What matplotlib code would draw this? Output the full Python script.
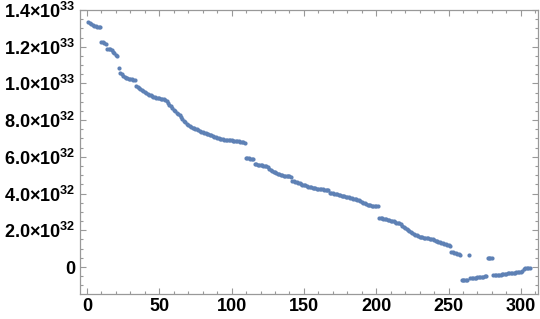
import numpy as np
import matplotlib
matplotlib.use("Agg")
import matplotlib.pyplot as plt
from matplotlib.ticker import FixedLocator, MultipleLocator

plt.rcParams['font.family'] = ['Liberation Sans', 'DejaVu Sans']
plt.rcParams['mathtext.fontset'] = 'custom'
plt.rcParams['mathtext.rm'] = 'Liberation Sans:bold'
plt.rcParams['mathtext.bf'] = 'Liberation Sans:bold'
plt.rcParams['mathtext.it'] = 'Liberation Sans:bold'

# values in units of 1e31, one per index 1..306
y_e31 = [
    133.4, 133.0, 132.4, 131.8, 131.5, 131.2, 131.0, 130.9, 130.8,          # 1-9
    122.6, 122.3, 122.0, 121.6,                                              # 10-13
    119.0, 118.8, 118.5, 118.3, 116.9, 116.3, 115.6, 114.8,                  # 14-21
    108.6,                                                                   # 22
    105.7, 105.0, 104.3, 103.7, 103.2, 102.8, 102.6, 102.4, 102.2, 102.0, 101.9,  # 23-33
    98.6, 98.0, 97.4, 96.8, 96.2, 95.7, 95.2, 94.7, 94.3, 93.9,              # 34-43
    93.6, 93.2, 92.8, 92.5, 92.3, 92.1, 91.9, 91.7, 91.5, 91.3, 91.0, 90.6,  # 44-55
    89.2, 88.2, 87.5, 86.5, 85.6, 84.8, 84.0, 83.3, 82.6, 81.5,              # 56-65
    80.6, 79.8, 78.9, 78.0, 77.2, 76.6, 76.2, 75.9, 75.6, 75.3,              # 66-75
    75.0, 74.6, 74.2, 73.8, 73.5, 73.2, 73.0, 72.7, 72.4, 72.1,              # 76-85
    71.7, 71.3, 71.0, 70.6, 70.3, 70.1, 69.9, 69.7, 69.6, 69.4,              # 86-95
    69.3, 69.2, 69.2, 69.1, 69.0, 68.9, 68.8, 68.6, 68.5, 68.4,              # 96-105
    68.3, 68.1, 67.9, 67.6,                                                  # 106-109
    59.4, 59.3, 59.2, 59.1, 59.0, 58.8,                                      # 110-115
    56.1, 55.9, 55.8, 55.6, 55.5, 55.4, 55.2, 55.0, 54.8, 54.6, 53.6,        # 116-126
    52.8, 52.4, 52.0, 51.6, 51.2, 50.8, 50.4, 50.1,                          # 127-134
    49.9, 49.8, 49.6, 49.5, 49.4, 49.3, 49.2,                                # 135-141
    47.0, 46.7, 46.4, 46.1, 45.8, 45.5, 45.2, 44.9, 44.7,                    # 142-150
    44.4, 44.1, 43.8, 43.6, 43.4, 43.2, 43.0,                                # 151-157
    42.8, 42.7, 42.6, 42.5, 42.4, 42.3, 42.2, 42.1, 42.0, 41.9,              # 158-167
    40.5, 40.3, 40.1, 39.9, 39.7, 39.5, 39.3, 39.1, 38.9, 38.7,
    38.5, 38.3, 38.1, 37.9, 37.6,                                            # 168-182
    37.4, 37.2, 37.0, 36.8, 36.6, 36.4, 36.1,                                # 183-189
    35.4, 35.0, 34.6, 34.2, 33.8, 33.7, 33.6, 33.5, 33.4, 33.3, 33.2, 33.1,  # 190-201
    26.9, 26.7, 26.5, 26.3, 26.1, 25.9, 25.7, 25.5, 25.2,                    # 202-210
    25.0, 24.8, 24.5, 24.2, 23.9, 23.7, 23.4,                                # 211-217
    22.5, 22.0, 21.4, 20.8, 20.2,                                            # 218-222
    19.6, 19.0, 18.5, 18.0,                                                  # 223-226
    17.6, 17.2, 16.9, 16.6, 16.3,                                            # 227-231
    16.2, 16.0, 15.9, 15.8, 15.6, 15.5, 15.3,                                # 232-238
    15.0, 14.7, 14.4, 14.1, 13.8, 13.5,                                      # 239-244
    13.2, 12.9, 12.6, 12.3, 12.0, 11.8, 11.6,                                # 245-251
    8.3, 8.0, 7.8, 7.5, 7.2, 6.9, 6.6,                                       # 252-258
    -7.1, -7.1, -7.0, -7.0, -6.9,                                            # 259-263
    6.5,                                                                     # 264
    -6.2, -6.1, -6.0, -5.9, -5.8, -5.7, -5.6, -5.5, -5.3, -5.2, -5.0, -4.9,  # 265-276
    4.9, 4.9, 4.8, 4.8,                                                      # 277-280
    -4.6, -4.5, -4.4, -4.3, -4.2, -4.1, -4.0, -3.8, -3.7, -3.6,              # 281-290
    -3.5, -3.4, -3.3, -3.2, -3.1, -3.0, -2.9, -2.8, -2.7, -2.6,              # 291-300
    -2.0, -1.3, -0.8, -0.5, -0.4, -0.3,                                      # 301-306
]

y_ticks = [0, 2.0e32, 4.0e32, 6.0e32, 8.0e32, 1.0e33, 1.2e33, 1.4e33]
y_tick_labels = ['0', '2.0\u00d710$^{32}$', '4.0\u00d710$^{32}$', '6.0\u00d710$^{32}$',
                 '8.0\u00d710$^{32}$', '1.0\u00d710$^{33}$', '1.2\u00d710$^{33}$',
                 '1.4\u00d710$^{33}$']
x_ticks = [0, 50, 100, 150, 200, 250, 300]
x_tick_labels = ['0', '50', '100', '150', '200', '250', '300']

y = np.array(y_e31) * 1e31
x = np.arange(1, len(y) + 1)

fig = plt.figure(figsize=(5.40, 3.19), dpi=100)
ax = fig.add_axes([0.1474, 0.0784, 0.9969 - 0.1474, 0.9687 - 0.0784])

ax.scatter(x, y, s=9, color='#5E81B5', linewidths=0, zorder=3)

ax.set_xlim(-5.1, 312.1)
ax.set_ylim(-1.47e32, 1.40e33)

ax.xaxis.set_major_locator(FixedLocator(x_ticks))
ax.set_xticklabels(x_tick_labels)
ax.xaxis.set_minor_locator(MultipleLocator(10))
ax.yaxis.set_major_locator(FixedLocator(y_ticks))
ax.set_yticklabels(y_tick_labels)
ax.yaxis.set_minor_locator(MultipleLocator(0.5e32))

frame_col = '#999999'
for sp in ax.spines.values():
    sp.set_color(frame_col)
    sp.set_linewidth(0.9)

ax.tick_params(which='both', direction='in', top=True, right=True,
               color=frame_col, width=0.8)
ax.tick_params(which='major', length=4.5, labelsize=13, pad=3)
ax.tick_params(which='minor', length=2.5)
for lab in ax.get_xticklabels() + ax.get_yticklabels():
    lab.set_fontweight('bold')

fig.savefig('out.png', dpi=100)
